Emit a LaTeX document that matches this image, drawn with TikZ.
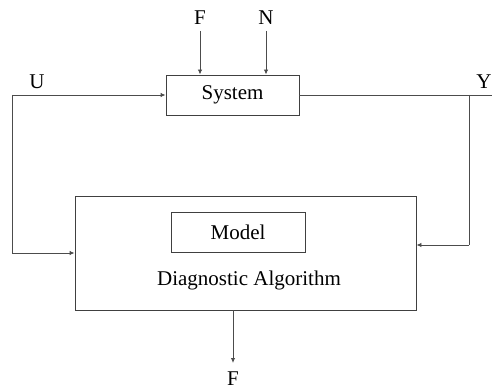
\documentclass[tikz,border=0pt]{standalone}
\usepackage{fontspec}
\setmainfont{Liberation Serif}
\usetikzlibrary{arrows.meta}
\begin{document}
\begin{tikzpicture}[x=1pt,y=-1pt,
  box/.style={draw=black!75,line width=0.9pt,inner sep=0pt},
  lbl/.style={font=\fontsize{21}{23}\selectfont,inner sep=0pt},
  conn/.style={draw=black!70,line width=0.9pt,-{Latex[length=5pt,width=4.5pt]}},
  plain/.style={draw=black!70,line width=0.9pt}]
\useasboundingbox (0,0) rectangle (492,390);
% nodes
\node[box,minimum width=133pt,minimum height=40pt,lbl] (sys) at (232.5,95) {System};
\node[box,minimum width=341pt,minimum height=114pt] (diag) at (245.5,253) {};
\node[box,minimum width=134pt,minimum height=40pt,lbl] (model) at (238,232) {Model};
\node[lbl] (dalg) at (249,280) {Diagnostic Algorithm};
\node[lbl] (fin) at (200,18) {F};
\node[lbl] (nin) at (266,18) {N};
\node[lbl] (u) at (37,82) {U};
\node[lbl] (y) at (484,82) {Y};
\node[lbl] (fout) at (233,379) {F};
% coordinates
\coordinate (fa) at (200,31);
\coordinate (na) at (266,31);
\coordinate (ul) at (12,95);
\coordinate (dl) at (12,253);
\coordinate (yr) at (492,95);
\coordinate (yv) at (469,95);
\coordinate (yd) at (469,245);
\coordinate (fo) at (233,363);
% connectors
\draw[conn] (fa) -- (fa |- sys.north);
\draw[conn] (na) -- (na |- sys.north);
\draw[conn] (ul) -- (sys.west);
\draw[plain] (ul) -- (dl);
\draw[conn] (dl) -- (diag.west |- dl);
\draw[plain] (sys.east) -- (yr);
\draw[plain] (yv) -- (yd);
\draw[conn] (yd) -- (diag.east |- yd);
\draw[conn] (diag.south -| fo) -- (fo);
\end{tikzpicture}
\end{document}
